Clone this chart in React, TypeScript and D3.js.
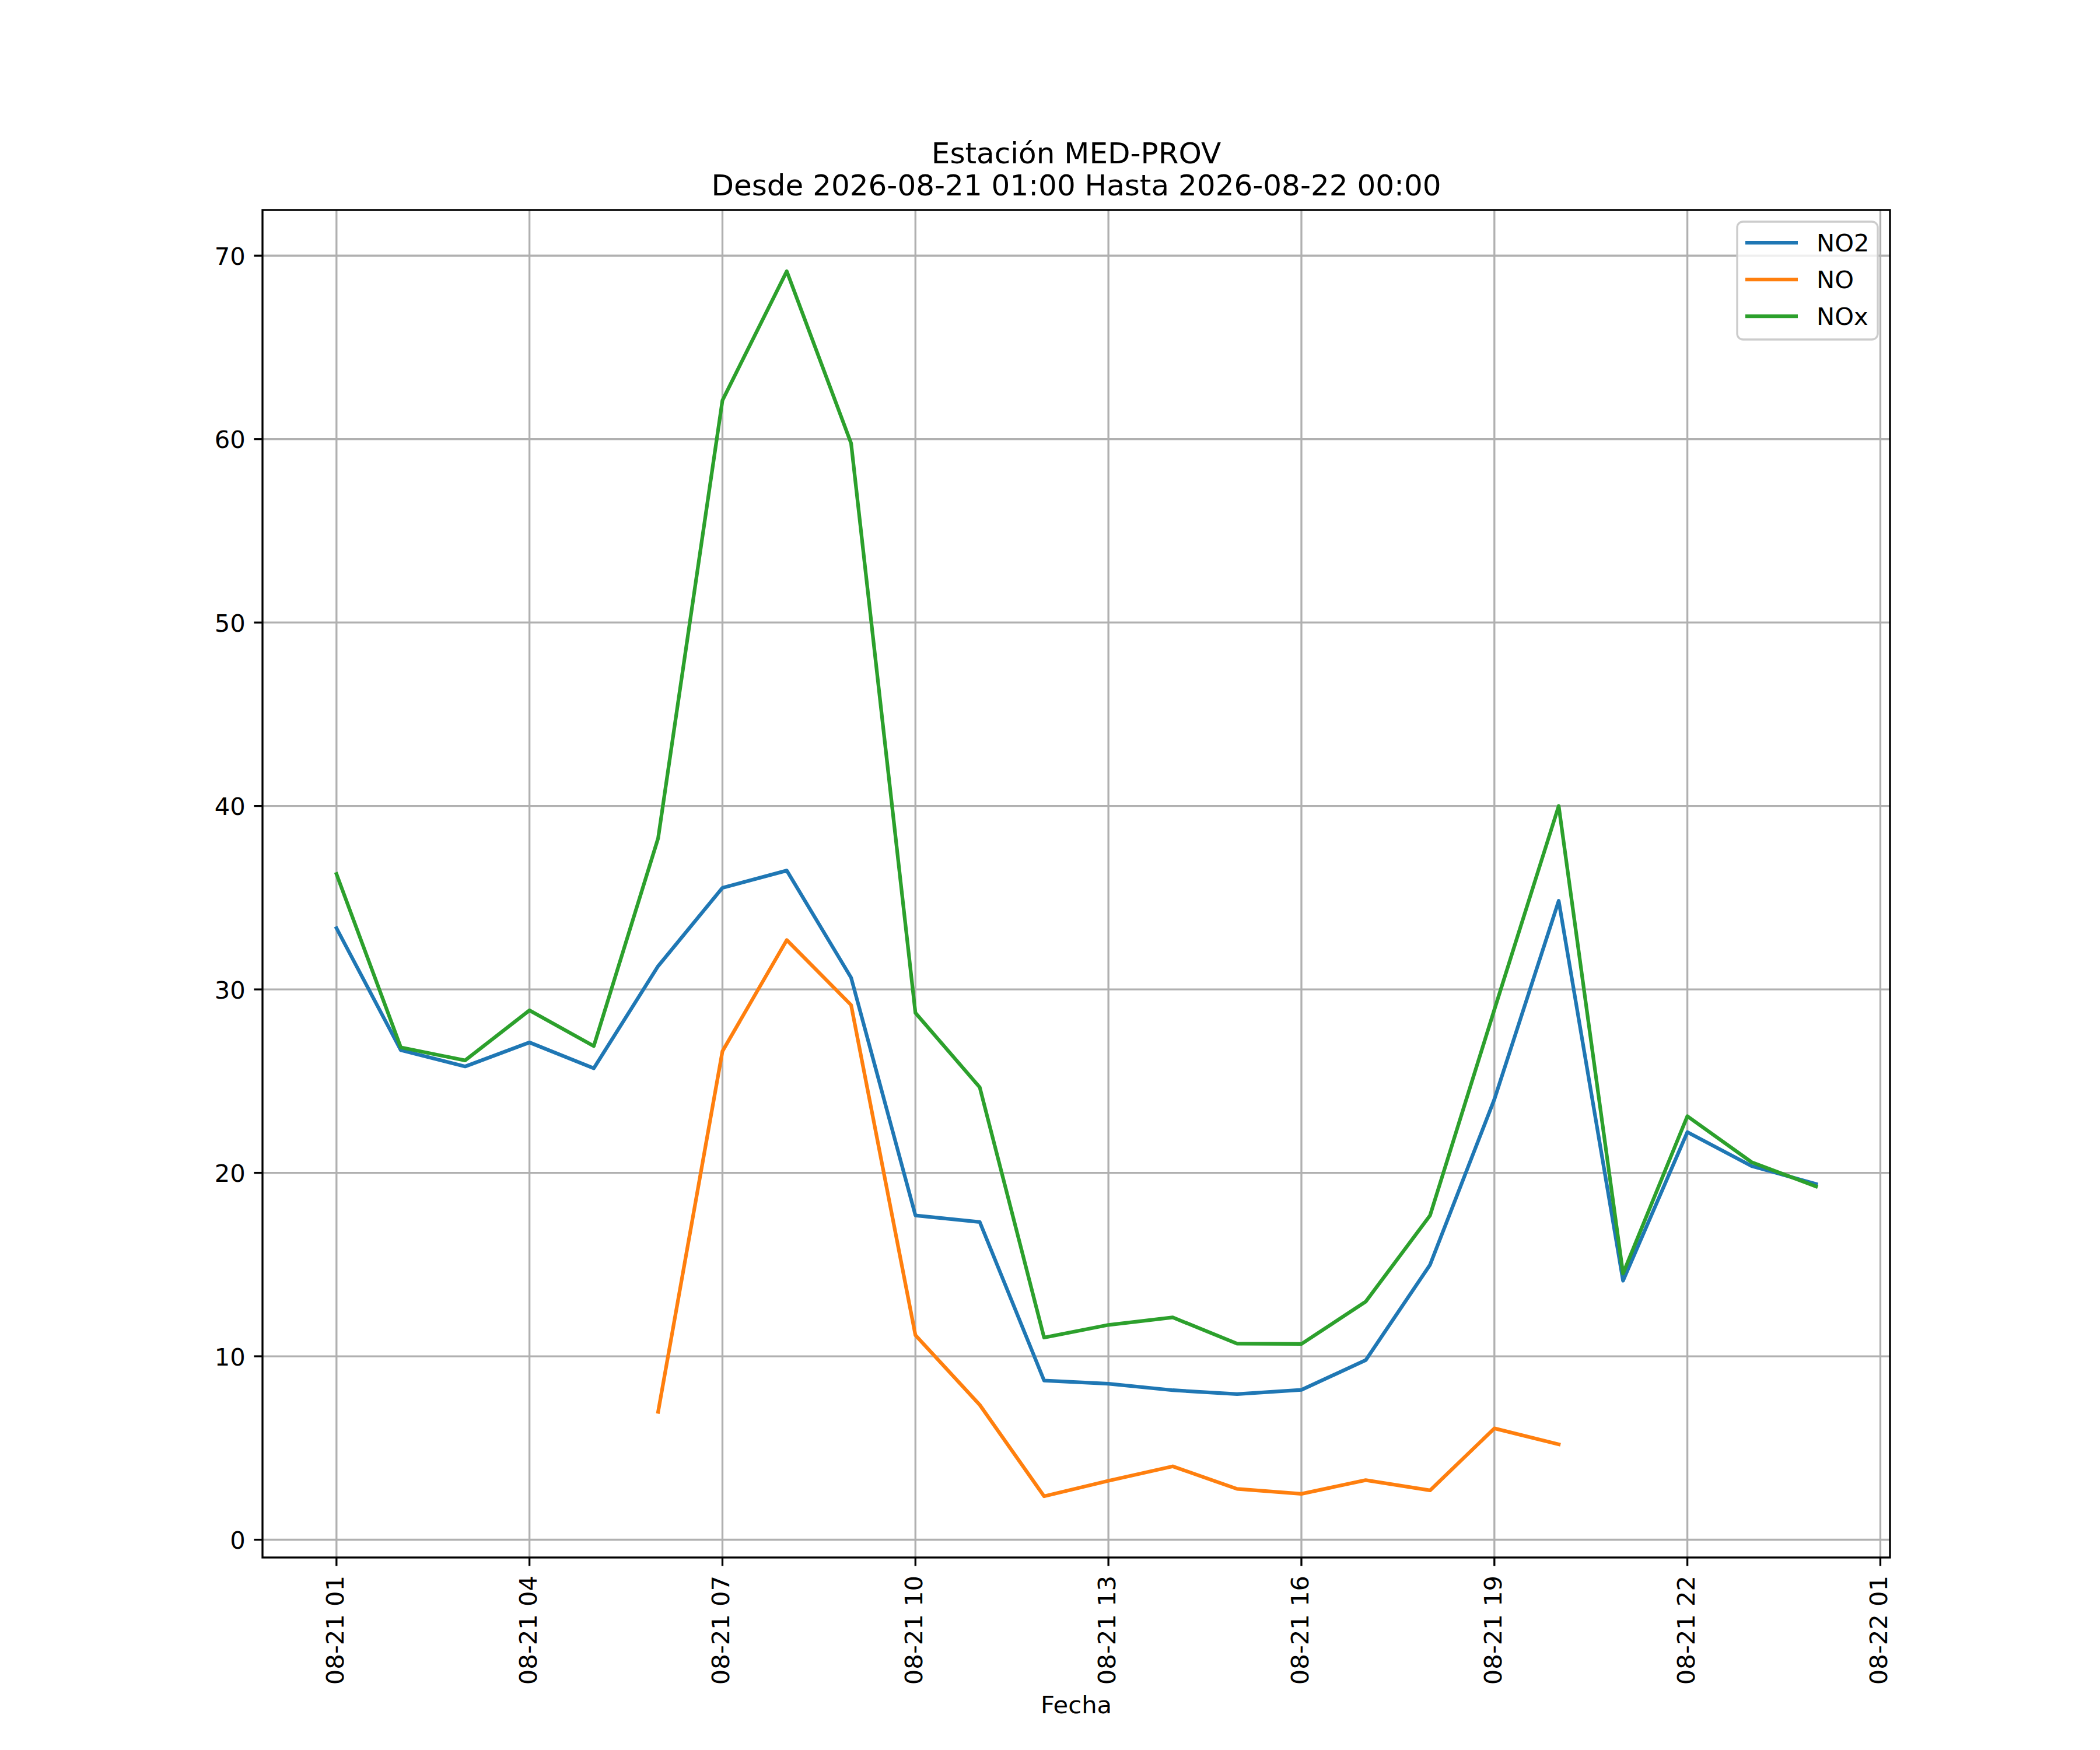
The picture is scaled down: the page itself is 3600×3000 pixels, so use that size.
import React from 'react';
import * as d3 from 'd3';

// Hourly readings, station MED-PROV
const fechas = [
  '2026-08-21 01:00', '2026-08-21 02:00', '2026-08-21 03:00', '2026-08-21 04:00',
  '2026-08-21 05:00', '2026-08-21 06:00', '2026-08-21 07:00', '2026-08-21 08:00',
  '2026-08-21 09:00', '2026-08-21 10:00', '2026-08-21 11:00', '2026-08-21 12:00',
  '2026-08-21 13:00', '2026-08-21 14:00', '2026-08-21 15:00', '2026-08-21 16:00',
  '2026-08-21 17:00', '2026-08-21 18:00', '2026-08-21 19:00', '2026-08-21 20:00',
  '2026-08-21 21:00', '2026-08-21 22:00', '2026-08-21 23:00', '2026-08-22 00:00'
];

const no2 = [
  33.34, 26.69, 25.8, 27.11, 25.7, 31.27, 35.54, 36.48, 30.64, 17.68, 17.32, 8.68,
  8.5, 8.15, 7.94, 8.17, 9.79, 14.99, 24.01, 34.83, 14.12, 22.22, 20.37, 19.39
];

const no: (number | null)[] = [
  null, null, null, null, null, 6.97, 26.63, 32.69, 29.15, 11.15, 7.35, 2.37,
  3.21, 4.0, 2.77, 2.5, 3.25, 2.69, 6.07, 5.2, null, null, null, null
];

const nox = [
  36.29, 26.84, 26.13, 28.86, 26.91, 38.24, 62.11, 69.15, 59.77, 28.72, 24.66, 11.02,
  11.71, 12.12, 10.69, 10.67, 12.98, 17.68, 28.9, 40.0, 14.51, 23.09, 20.58, 19.26
];

const xTickFechas = [
  '2026-08-21 01:00', '2026-08-21 04:00', '2026-08-21 07:00', '2026-08-21 10:00',
  '2026-08-21 13:00', '2026-08-21 16:00', '2026-08-21 19:00', '2026-08-21 22:00',
  '2026-08-22 01:00'
];
const yTicks = [0, 10, 20, 30, 40, 50, 60, 70];

const series = [
  { name: 'NO2', values: no2 as (number | null)[], color: '#1f77b4' },
  { name: 'NO', values: no, color: '#ff7f0e' },
  { name: 'NOx', values: nox as (number | null)[], color: '#2ca02c' }
];

const parse = d3.utcParse('%Y-%m-%d %H:%M');
const fmtTick = d3.utcFormat('%m-%d %H');

const W = 3600;
const H = 3000;
const margin = { left: 450, right: 360, top: 360, bottom: 330 };
const FONT = 'DejaVu Sans, sans-serif';
const fs = 41.67;
const lw = 6.25;
const thin = 3.33;

export default function App() {
  const dates = fechas.map(f => parse(f) as Date);

  // matplotlib-like 5% autoscale margins
  const [x0, x1] = d3.extent(dates) as [Date, Date];
  const xPad = (x1.getTime() - x0.getTime()) * 0.05;
  const x = d3
    .scaleUtc()
    .domain([new Date(x0.getTime() - xPad), new Date(x1.getTime() + xPad)])
    .range([margin.left, W - margin.right]);

  const all = series.flatMap(s => s.values).filter(v => v != null) as number[];
  const yMin = d3.min(all) || 0;
  const yMax = d3.max(all) || 1;
  const yPad = (yMax - yMin) * 0.05;
  const y = d3
    .scaleLinear()
    .domain([yMin - yPad, yMax + yPad])
    .range([H - margin.bottom, margin.top]);

  const left = margin.left;
  const right = W - margin.right;
  const top = margin.top;
  const bottom = H - margin.bottom;
  const cx = (left + right) / 2;

  const line = d3
    .line<number | null>()
    .defined(v => v != null)
    .x((_, i) => x(dates[i]))
    .y(v => y(v as number));

  const xTicks = xTickFechas.map(f => parse(f) as Date);

  return (
    <svg
      width={W}
      height={H}
      style={{ position: 'absolute', left: 0, top: 0, background: '#fff' }}
      fontFamily={FONT}
    >
      <rect x={0} y={0} width={W} height={H} fill="#fff" />

      {/* grid */}
      <g stroke="#b0b0b0" strokeWidth={thin}>
        {xTicks.map((d, i) => (
          <line key={'gx' + i} x1={x(d)} x2={x(d)} y1={top} y2={bottom} />
        ))}
        {yTicks.map(t => (
          <line key={'gy' + t} x1={left} x2={right} y1={y(t)} y2={y(t)} />
        ))}
      </g>

      {/* series */}
      {series.map(s => (
        <path
          key={s.name}
          d={line(s.values) || ''}
          fill="none"
          stroke={s.color}
          strokeWidth={lw}
          strokeLinejoin="round"
          strokeLinecap="square"
        />
      ))}

      {/* spines */}
      <rect
        x={left}
        y={top}
        width={right - left}
        height={bottom - top}
        fill="none"
        stroke="#000"
        strokeWidth={thin}
      />

      {/* y axis */}
      <g>
        {yTicks.map(t => (
          <g key={'yt' + t}>
            <line x1={left - 14.6} x2={left} y1={y(t)} y2={y(t)} stroke="#000" strokeWidth={thin} />
            <text x={left - 29.2} y={y(t) + 15.5} fontSize={fs} textAnchor="end">
              {t}
            </text>
          </g>
        ))}
      </g>

      {/* x axis */}
      <g>
        {xTicks.map((d, i) => (
          <g key={'xt' + i}>
            <line x1={x(d)} x2={x(d)} y1={bottom} y2={bottom + 14.6} stroke="#000" strokeWidth={thin} />
            <text
              transform={`translate(${x(d)},${bottom + 31}) rotate(-90)`}
              y={12}
              fontSize={fs}
              textAnchor="end"
            >
              {fmtTick(d)}
            </text>
          </g>
        ))}
      </g>

      <text x={cx} y={2937} fontSize={fs} textAnchor="middle">
        Fecha
      </text>

      {/* title */}
      <text x={cx} y={280} fontSize={50} textAnchor="middle">
        Estación MED-PROV
      </text>
      <text x={cx} y={335} fontSize={50} textAnchor="middle">
        Desde 2026-08-21 01:00 Hasta 2026-08-22 00:00
      </text>

      {/* legend */}
      <g>
        <rect
          x={2978}
          y={380}
          width={241}
          height={202}
          rx={10}
          fill="#fff"
          fillOpacity={0.8}
          stroke="#cccccc"
          strokeWidth={thin}
        />
        {series.map((s, i) => {
          const ly = 416 + i * 63;
          return (
            <g key={'lg' + s.name}>
              <line x1={2992} x2={3082} y1={ly} y2={ly} stroke={s.color} strokeWidth={lw} />
              <text x={3114} y={ly + 14.5} fontSize={fs}>
                {s.name}
              </text>
            </g>
          );
        })}
      </g>
    </svg>
  );
}
